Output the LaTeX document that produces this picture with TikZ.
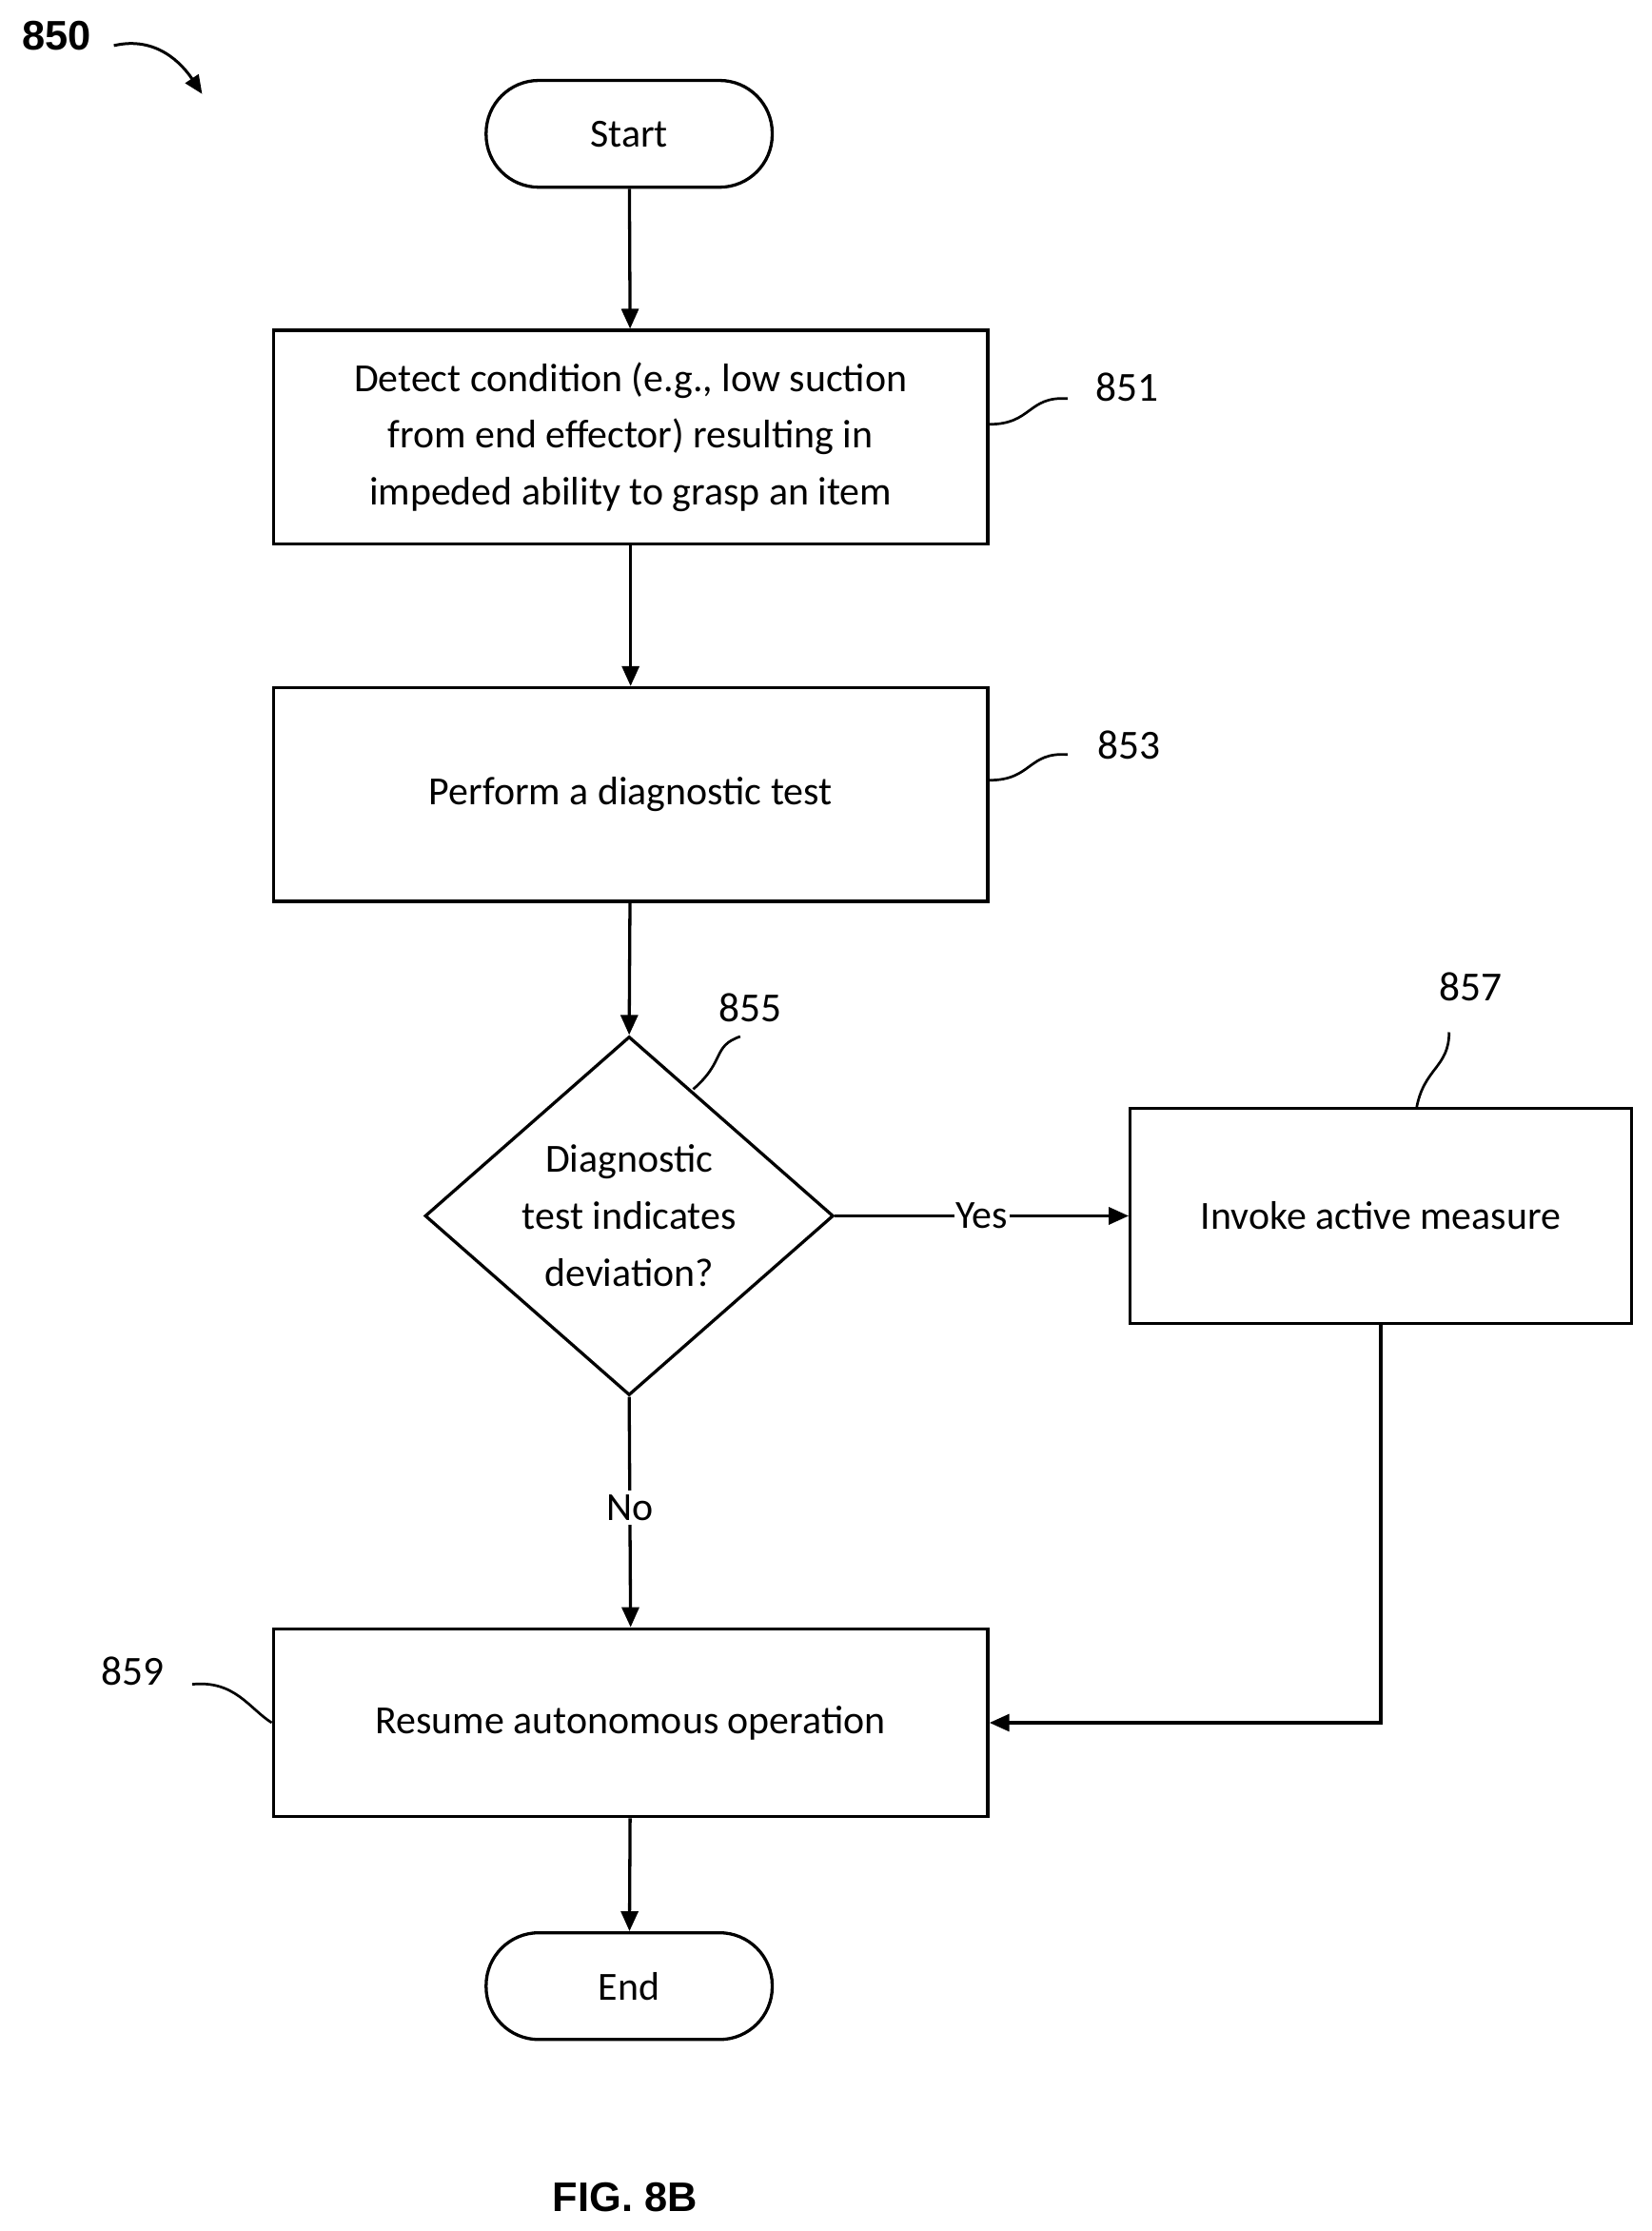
\documentclass[tikz,border=0pt]{standalone}
\usepackage{fontspec}
\setmainfont{Carlito}
\newfontfamily\arialb{Liberation Sans}
\usetikzlibrary{shapes.geometric,arrows.meta}
\begin{document}
\begin{tikzpicture}[x=1pt,y=-1pt,font=\fontsize{28}{40}\selectfont,
  box/.style={draw,line width=2.2pt,minimum width=502pt,align=center,inner sep=0pt},
  term/.style={draw,line width=2.2pt,rounded corners=37pt,minimum width=201pt,minimum height=75pt},
  arr/.style={line width=2.2pt,-{Triangle[length=14pt,width=12pt]}},
  lead/.style={line width=1.8pt},
  num/.style={font=\fontsize{29}{34}\selectfont}]
\useasboundingbox (0,0) rectangle (1160,1567);
\node[term] (start) at (442,94) {Start};
\node[box,minimum height=150pt] (b851) at (443,307) {Detect condition (e.g., low suction\\from end effector) resulting in\\impeded ability to grasp an item};
\node[box,minimum height=150pt] (b853) at (443,558) {Perform a diagnostic test};
\node[diamond,draw,line width=2.2pt,minimum width=287pt,minimum height=252pt,align=center,inner sep=0pt,aspect=1.14] (d855) at (442,854) {Diagnostic\\test indicates\\deviation?};
\node[box,minimum width=352pt,minimum height=151pt] (b857) at (970,854) {Invoke active measure};
\node[box,minimum height=132pt] (b859) at (443,1210) {Resume autonomous operation};
\node[term] (end) at (442,1395) {End};
\draw[arr] (start) -- (b851);
\draw[arr] (b851) -- (b853);
\draw[arr] (b853) -- (d855.north);
\draw[arr] (d855.east) -- node[fill=white,inner sep=1pt] (yes) {Yes} (b857.west);
\draw[arr] (d855.south) -- node[fill=white,inner sep=3pt,pos=0.48] (no) {No} (b859.north);
\draw[arr] (b857.south) |- (b859.east);
\draw[arr] (b859) -- (end);
\node[num] (n851) at (792,272) {851};
\node[num] (n853) at (793,523) {853};
\node[num] (n855) at (527,708) {855};
\node[num] (n857) at (1033,693) {857};
\node[num] (n859) at (93,1174) {859};
\draw[lead] (b851.east |- 0,298) .. controls (725,298) and (722,278) .. (750,280);
\draw[lead] (b853.east |- 0,548) .. controls (725,548) and (722,528) .. (750,530);
\draw[lead] (487,765) .. controls (510,745) and (500,735) .. (520,728);
\draw[lead] (995,779) .. controls (1000,750) and (1018,750) .. (1018,725);
\draw[lead] (b859.west) .. controls (175,1200) and (165,1180) .. (135,1183);
\node[font=\arialb\bfseries\fontsize{29}{34}\selectfont] (n850) at (40,25) {850};
\draw[line width=2pt,-{Triangle[length=13pt,width=11pt]}] (80,32) .. controls (110,25) and (128,45) .. (142,66);
\node[font=\arialb\bfseries\fontsize{29}{34}\selectfont] (fig) at (439,1543) {FIG. 8B};
\end{tikzpicture}
\end{document}
